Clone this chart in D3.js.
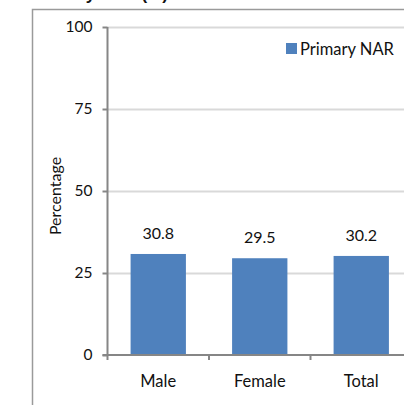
<!DOCTYPE html>
<head>
  <meta charset="utf-8">
  <script src="https://d3js.org/d3.v7.min.js"></script>
  <style>
    body { margin: 0; background: #fff; }
    svg { width: 404px; height: 405px; display: block; }
    text { font-family: Lato, "Open Sans", sans-serif; fill: #111; }
  </style>
</head>
<body>
  <svg></svg>
  <script>
    var categories = ['Male', 'Female', 'Total'];
    var values = [30.8, 29.5, 30.2];
    var yTicks = [0, 25, 50, 75, 100];
    var seriesName = 'Primary NAR';
    var title = 'Primary NAR (%)';

    var svg = d3.select('svg');

    // title, cut off at the top edge
    svg.append('text')
      .attr('x', 32).attr('y', 0)
      .style('font-family', '"Liberation Sans", Arial, sans-serif')
      .style('font-weight', 'bold')
      .style('font-size', '17px')
      .text(title);

    // outer chart frame (runs off the right and bottom)
    svg.append('rect')
      .attr('x', 32.5).attr('y', 9.5)
      .attr('width', 420).attr('height', 420)
      .attr('fill', 'none')
      .attr('stroke', '#9a9a9a')
      .attr('stroke-width', 1.5);

    var plotLeft = 107.5, plotTop = 27, plotBottom = 355, step = 101.5;
    var x = d3.scaleBand()
      .domain(categories)
      .range([plotLeft, plotLeft + categories.length * step])
      .paddingInner(0.455).paddingOuter(0.2275);
    var y = d3.scaleLinear().domain([0, 100]).range([plotBottom, plotTop]);

    // gridlines
    svg.append('g').selectAll('line')
      .data(yTicks.filter(function(d) { return d > 0; }))
      .enter().append('line')
      .attr('x1', plotLeft).attr('x2', 404)
      .attr('y1', function(d) { return Math.round(y(d)) + 0.5; })
      .attr('y2', function(d) { return Math.round(y(d)) + 0.5; })
      .attr('stroke', '#d9d9d9').attr('stroke-width', 2);

    // bars
    svg.append('g').selectAll('rect')
      .data(values)
      .enter().append('rect')
      .attr('x', function(d, i) { return x(categories[i]); })
      .attr('width', x.bandwidth())
      .attr('y', function(d) { return y(d); })
      .attr('height', function(d) { return plotBottom - y(d); })
      .attr('fill', '#4f81bd');

    // value labels
    svg.append('g').selectAll('text')
      .data(values)
      .enter().append('text')
      .attr('x', function(d, i) { return x(categories[i]) + x.bandwidth() / 2; })
      .attr('y', function(d) { return y(d) - 15; })
      .attr('text-anchor', 'middle')
      .style('font-size', '16px')
      .text(function(d) { return d.toFixed(1); });

    // y axis
    var yAxis = svg.append('g')
      .attr('transform', 'translate(' + plotLeft + ',0)')
      .call(d3.axisLeft(y).tickValues(yTicks).tickSize(5).tickPadding(10));
    yAxis.select('.domain').attr('stroke', '#868686').attr('stroke-width', 2)
      .attr('d', 'M0,' + plotTop + 'V' + plotBottom);
    yAxis.selectAll('.tick line').attr('stroke', '#868686').attr('stroke-width', 2);
    yAxis.selectAll('.tick text')
      .style('font-family', 'Lato, "Open Sans", sans-serif')
      .style('font-size', '15.5px').attr('fill', '#111');

    // x axis
    var xEdges = d3.range(categories.length + 1).map(function(i) { return plotLeft + i * step; });
    svg.append('line')
      .attr('x1', plotLeft - 5).attr('x2', 404)
      .attr('y1', plotBottom).attr('y2', plotBottom)
      .attr('stroke', '#868686').attr('stroke-width', 2);
    svg.append('g').selectAll('line')
      .data(xEdges)
      .enter().append('line')
      .attr('x1', function(d) { return d; }).attr('x2', function(d) { return d; })
      .attr('y1', plotBottom).attr('y2', plotBottom + 5)
      .attr('stroke', '#868686').attr('stroke-width', 2);
    svg.append('g').selectAll('text')
      .data(categories)
      .enter().append('text')
      .attr('x', function(d) { return x(d) + x.bandwidth() / 2; })
      .attr('y', plotBottom + 32)
      .attr('text-anchor', 'middle')
      .style('font-size', '16.5px')
      .text(function(d) { return d; });

    // y label
    svg.append('text')
      .attr('transform', 'translate(61,196) rotate(-90)')
      .attr('text-anchor', 'middle')
      .style('font-size', '16px')
      .text('Percentage');

    // legend
    svg.append('rect')
      .attr('x', 286).attr('y', 43)
      .attr('width', 11).attr('height', 11)
      .attr('fill', '#4f81bd');
    svg.append('text')
      .attr('x', 300).attr('y', 55)
      .style('font-size', '16.5px')
      .text(seriesName);
  </script>
</body>
